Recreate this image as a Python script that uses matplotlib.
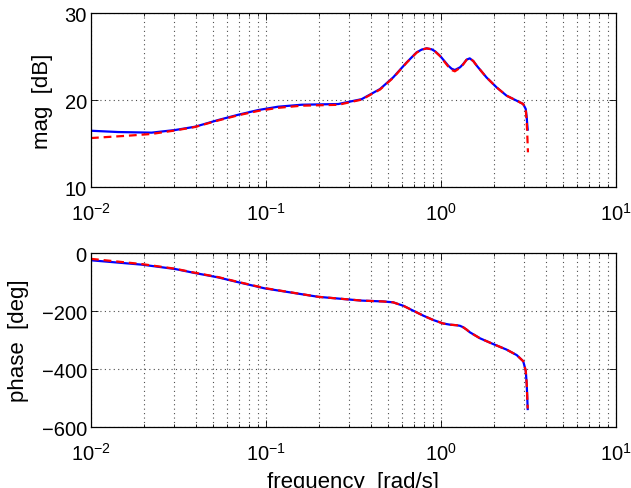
import numpy as np
import matplotlib
matplotlib.use("Agg")
import matplotlib.pyplot as plt
from matplotlib.ticker import LogLocator, NullFormatter

# =====================================
# Datos (Bode)
# =====================================
# magnitud – curva azul (modelo)
w_mag_azul = [0.0100, 0.0143, 0.0222, 0.0302, 0.0393, 0.0533, 0.0695, 0.0904,
              0.117, 0.160, 0.259, 0.352, 0.448, 0.533, 0.637, 0.726, 0.776,
              0.828, 0.885, 0.925, 0.987, 1.10, 1.15, 1.20, 1.285, 1.34, 1.40,
              1.46, 1.53, 1.60, 1.82, 2.08, 2.37, 2.71, 2.95, 3.05, 3.09,
              3.11, 3.13]
mag_azul = [16.47, 16.32, 16.25, 16.55, 16.93, 17.70, 18.31, 18.85,
            19.23, 19.46, 19.54, 20.10, 21.26, 22.60, 24.33, 25.48, 25.80,
            25.94, 25.83, 25.60, 25.09, 23.95, 23.60, 23.45, 23.76, 24.14, 24.64,
            24.79, 24.48, 23.95, 22.60, 21.45, 20.50, 19.92, 19.54, 18.97, 18.00,
            17.20, 16.60]

# magnitud – curva roja (datos)
w_mag_rojo = [0.0100, 0.0163, 0.0222, 0.0302, 0.0393, 0.0533, 0.0695, 0.0904,
              0.117, 0.160, 0.259, 0.352, 0.448, 0.533, 0.637, 0.726, 0.776,
              0.828, 0.885, 0.925, 0.987, 1.10, 1.15, 1.20, 1.285, 1.34, 1.40,
              1.46, 1.53, 1.60, 1.82, 2.08, 2.37, 2.71, 2.95, 3.05, 3.09,
              3.12, 3.14]
mag_rojo = [15.63, 15.90, 16.10, 16.50, 16.90, 17.65, 18.25, 18.75,
            19.10, 19.35, 19.45, 20.05, 21.20, 22.55, 24.30, 25.45, 25.78,
            25.94, 25.83, 25.58, 25.05, 23.85, 23.45, 23.30, 23.70, 24.10, 24.62,
            24.79, 24.48, 23.95, 22.60, 21.45, 20.50, 19.92, 19.54, 18.90, 17.50,
            15.50, 13.99]

# fase – ambas curvas casi idénticas
w_fase = [0.0100, 0.0195, 0.0302, 0.0393, 0.0533, 0.0665, 0.0986, 0.199,
          0.352, 0.468, 0.533, 0.570, 0.610, 0.695, 0.793, 0.904, 1.03,
          1.125, 1.23, 1.285, 1.34, 1.40, 1.46, 1.67, 1.99, 2.37, 2.71,
          2.95, 3.05, 3.09, 3.11, 3.13]
fase_azul = [-25, -40, -55, -69, -84, -98, -122, -151,
             -164, -167, -170, -176, -182, -199, -216, -231, -243,
             -247, -249, -251, -256, -264, -273, -294, -314, -333, -352,
             -373, -406, -452, -495, -538]
fase_rojo = [-20, -38, -54, -68, -83, -97, -121, -151,
             -164, -167, -170, -176, -182, -199, -216, -231, -243,
             -247, -249, -251, -256, -264, -273, -294, -314, -333, -352,
             -373, -406, -452, -495, -536]

# =====================================
# Estilo
# =====================================
plt.rcParams['font.family'] = ['Liberation Sans', 'DejaVu Sans']
plt.rcParams['mathtext.fontset'] = 'custom'
plt.rcParams['mathtext.rm'] = 'Liberation Sans'
plt.rcParams['mathtext.it'] = 'Liberation Sans:italic'
plt.rcParams['font.size'] = 14.5

TAM_ETIQ = 16
DASH = (0, (3.5, 2.2))
PUNTOS = (0, (1, 3))

fig = plt.figure(figsize=(6.31, 4.89), dpi=100)
ax1 = fig.add_axes([0.1442, 0.6155, 0.832, 0.3558])
ax2 = fig.add_axes([0.1442, 0.1247, 0.832, 0.3558])


def estilo(ax):
    ax.set_xscale('log')
    ax.set_xlim(1e-2, 1e1)
    ax.xaxis.set_major_locator(LogLocator(base=10, numticks=10))
    ax.xaxis.set_minor_locator(LogLocator(base=10, subs=np.arange(2, 10), numticks=10))
    ax.xaxis.set_minor_formatter(NullFormatter())
    ax.grid(True, which='major', axis='both', linestyle=PUNTOS, color='0.3', linewidth=0.8)
    ax.grid(True, which='minor', axis='x', linestyle=PUNTOS, color='0.3', linewidth=0.8)
    ax.tick_params(which='both', direction='in', top=True, right=True, width=0.6)
    ax.tick_params(which='major', length=5)
    ax.tick_params(which='minor', length=2.5)
    ax.tick_params(axis='x', which='major', pad=10.5)
    ax.tick_params(axis='y', which='major', pad=3)
    for sp in ax.spines.values():
        sp.set_linewidth(0.9)


ax1.plot(w_mag_azul, mag_azul, color='blue', linewidth=1.6)
ax1.plot(w_mag_rojo, mag_rojo, color='red', linewidth=1.6, linestyle=DASH)
estilo(ax1)
ax1.set_ylim(10, 30)
ax1.set_yticks([10, 20, 30])
ax1.set_ylabel('mag  [dB]', fontsize=TAM_ETIQ)
ax1.yaxis.set_label_coords(-0.072, 0.5)

ax2.plot(w_fase, fase_azul, color='blue', linewidth=1.6)
ax2.plot(w_fase, fase_rojo, color='red', linewidth=1.6, linestyle=DASH)
estilo(ax2)
ax2.set_ylim(-600, 0)
ax2.set_yticks([-600, -400, -200, 0])
ax2.set_yticklabels(['\u2212600', '\u2212400', '\u2212200', '0'])
ax2.set_ylabel('phase  [deg]', fontsize=TAM_ETIQ)
ax2.yaxis.set_label_coords(-0.119, 0.5)
ax2.set_xlabel('frequency  [rad/s]', fontsize=TAM_ETIQ)
ax2.xaxis.set_label_coords(0.5, -0.255)

fig.savefig('out.png', dpi=100)
